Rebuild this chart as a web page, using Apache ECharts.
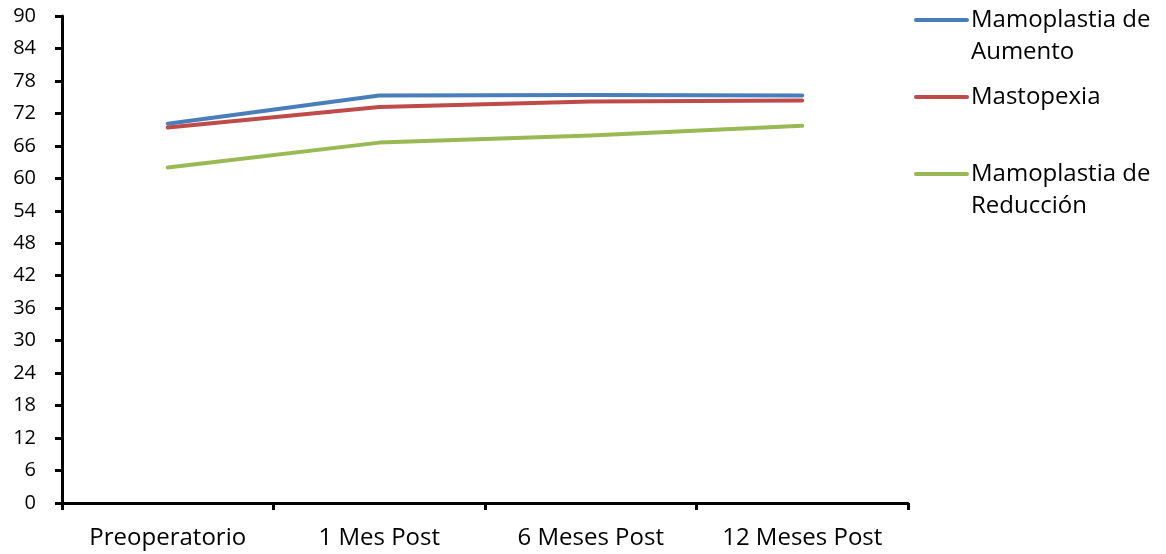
<!DOCTYPE html>
<html>
<head>
<meta charset="utf-8">
<script src="https://cdn.jsdelivr.net/npm/echarts@6/dist/echarts.min.js"></script>
<style>
  html, body { margin: 0; padding: 0; background: #fff; }
  #chart { width: 1166px; height: 554px; }
</style>
</head>
<body>
<div id="chart"></div>
<script>
// Time points after surgery
const categories = ['Preoperatorio', '1 Mes Post', '6 Meses Post', '12 Meses Post'];

// Score per procedure at each time point
const aumento = [70.1, 75.3, 75.4, 75.3];
const mastopexia = [69.4, 73.2, 74.2, 74.4];
const reduccion = [62.0, 66.6, 67.9, 69.7];

// Legend labels (two-line where the name wraps)
const seriesNames = ['Mamoplastia de Aumento', 'Mastopexia', 'Mamoplastia de Reducción'];
const legendLines = [['Mamoplastia de', 'Aumento'], ['Mastopexia'], ['Mamoplastia de', 'Reducción']];
const colors = ['#4a7ebb', '#be4b48', '#98b954'];

const FONT = 'Open Sans';
const FONT_SIZE = 24;
const chart = echarts.init(document.getElementById('chart'));

// Legend drawn as graphic items so the swatch sits on the first text line
const legendTop = [20, 97, 174];
const legendGraphics = [];
legendLines.forEach((lines, i) => {
  legendGraphics.push({
    type: 'line',
    shape: { x1: 916, y1: legendTop[i], x2: 967, y2: legendTop[i] },
    style: { stroke: colors[i], lineWidth: 4, lineCap: 'round' }
  });
  lines.forEach((t, j) => {
    legendGraphics.push({
      type: 'text',
      x: 971,
      y: legendTop[i] + j * 32,
      style: { text: t, fill: '#000', font: FONT_SIZE + 'px "' + FONT + '"', verticalAlign: 'middle', align: 'left' }
    });
  });
});

const makeSeries = (name, data, color) => ({
  name,
  type: 'line',
  data,
  symbol: 'none',
  lineStyle: { color, width: 4, cap: 'round', join: 'round' },
  itemStyle: { color },
  animation: false
});

chart.setOption({
  backgroundColor: '#fff',
  animation: false,
  grid: { left: 62, right: 258, top: 16, bottom: 51, containLabel: false },
  xAxis: {
    type: 'category',
    data: categories,
    boundaryGap: true,
    axisLine: { lineStyle: { color: '#000', width: 3 } },
    axisTick: { show: true, inside: false, length: 7, alignWithLabel: false, lineStyle: { color: '#000', width: 3 } },
    axisLabel: { color: '#000', fontFamily: FONT, fontSize: FONT_SIZE, margin: 23 },
    splitLine: { show: false }
  },
  yAxis: {
    type: 'value',
    min: 0,
    max: 90,
    interval: 6,
    axisLine: { show: true, lineStyle: { color: '#000', width: 3 } },
    axisTick: { show: true, length: 7, lineStyle: { color: '#000', width: 3 } },
    axisLabel: { color: '#000', fontFamily: FONT, fontSize: 20, margin: 26 },
    splitLine: { show: false }
  },
  graphic: legendGraphics,
  series: [
    makeSeries(seriesNames[0], aumento, colors[0]),
    makeSeries(seriesNames[1], mastopexia, colors[1]),
    makeSeries(seriesNames[2], reduccion, colors[2])
  ]
});
</script>
</body>
</html>
